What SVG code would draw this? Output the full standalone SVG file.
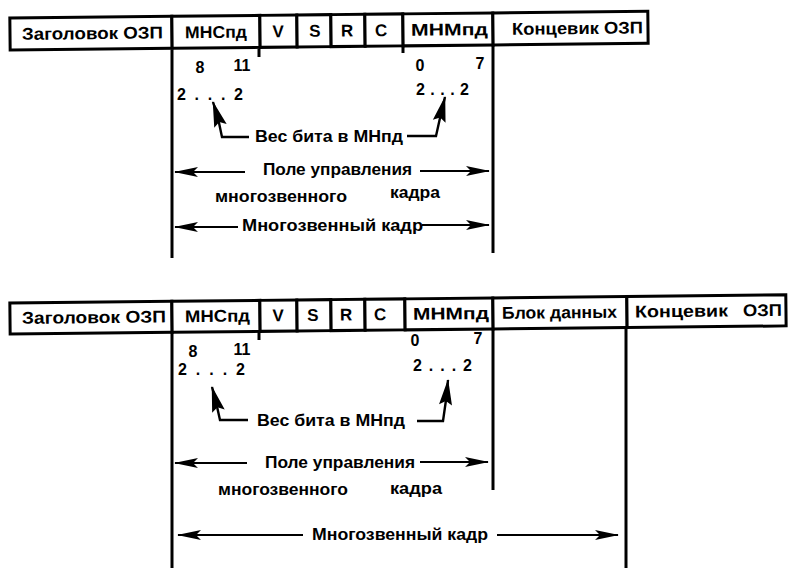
<svg xmlns="http://www.w3.org/2000/svg" width="791" height="568" viewBox="0 0 791 568">
<style>
  .box { fill: #fff; stroke: #000; stroke-width: 3; }
  .lbl { font-family: "Liberation Sans", Arial, sans-serif; font-weight: bold; font-size: 17px; fill: #000; }
  .t { font-family: "Liberation Sans", Arial, sans-serif; font-weight: bold; font-size: 16px; fill: #000; }
  .wall { stroke: #000; stroke-width: 3; fill: none; }
  .tick { stroke: #000; stroke-width: 3; fill: none; }
  .arr { stroke: #000; stroke-width: 2; fill: none; marker-end: url(#head); }
  .bent { stroke: #000; stroke-width: 2.4; fill: none; marker-end: url(#bighead); }
</style>
<defs>
  <marker id="head" markerUnits="userSpaceOnUse" viewBox="0 -6 24 12" markerWidth="24" markerHeight="12" refX="23" refY="0" orient="auto" overflow="visible">
    <path d="M24,0 L0,-5 L5,0 L0,5 Z" fill="#000"/>
  </marker>
  <marker id="bighead" markerUnits="userSpaceOnUse" viewBox="0 -7 26 14" markerWidth="26" markerHeight="14" refX="25" refY="0" orient="auto" overflow="visible">
    <path d="M26,0 L0,-6.5 L4,0 L0,6.5 Z" fill="#000"/>
  </marker>
</defs>
<rect width="791" height="568" fill="#fff"/>

<!-- ===== Top diagram ===== -->
<g id="row1" transform="rotate(-0.6 10 34)">
  <g id="n1-header"><rect class="box" x="10" y="18" width="162" height="32"/><text class="lbl" x="22" y="40" textLength="141" lengthAdjust="spacingAndGlyphs">Заголовок ОЗП</text></g>
  <g id="n1-mnspd"><rect class="box" x="172" y="18" width="88" height="32"/><text class="lbl" x="185" y="40" textLength="62" lengthAdjust="spacingAndGlyphs">МНСпд</text></g>
  <g id="n1-v"><rect class="box" x="260" y="18" width="37" height="32"/><text class="lbl" x="278" y="40" text-anchor="middle">V</text></g>
  <g id="n1-s"><rect class="box" x="297" y="18" width="34" height="32"/><text class="lbl" x="315" y="40" text-anchor="middle">S</text></g>
  <g id="n1-r"><rect class="box" x="331" y="18" width="34" height="32"/><text class="lbl" x="347" y="40" text-anchor="middle">R</text></g>
  <g id="n1-c"><rect class="box" x="365" y="18" width="38" height="32"/><text class="lbl" x="381" y="40" text-anchor="middle">C</text></g>
  <g id="n1-mnmpd"><rect class="box" x="403" y="18" width="90" height="32"/><text class="lbl" x="411" y="40" textLength="77" lengthAdjust="spacingAndGlyphs">МНМпд</text></g>
  <g id="n1-trailer"><rect class="box" x="493" y="18" width="155" height="32"/><text class="lbl" x="512" y="40" textLength="131" lengthAdjust="spacingAndGlyphs">Концевик ОЗП</text></g>
</g>

<g id="frame1">
  <line class="wall" x1="172" y1="50" x2="172" y2="258"/>
  <line class="wall" x1="493" y1="45" x2="493" y2="253"/>
  <line class="tick" x1="259" y1="49" x2="259" y2="57"/>
  <line class="tick" x1="403" y1="46" x2="403" y2="53"/>
</g>

<g id="text1">
  <text class="t" x="200" y="73" text-anchor="middle">8</text>
  <text class="t" x="242" y="71" text-anchor="middle">11</text>
  <text class="t" x="177" y="100" textLength="66" lengthAdjust="spacing">2 . . . 2</text>
  <text class="t" x="420" y="71" text-anchor="middle">0</text>
  <text class="t" x="480" y="69" text-anchor="middle">7</text>
  <text class="t" x="416" y="95" textLength="53" lengthAdjust="spacing">2 . . . 2</text>
  <text class="t" x="255" y="142" textLength="148" lengthAdjust="spacingAndGlyphs">Вес бита в МНпд</text>
  <text class="t" x="263" y="175" textLength="149" lengthAdjust="spacingAndGlyphs">Поле управления</text>
  <text class="t" x="215" y="202" textLength="132" lengthAdjust="spacingAndGlyphs">многозвенного</text>
  <text class="t" x="390" y="198" textLength="50" lengthAdjust="spacingAndGlyphs">кадра</text>
  <text class="t" x="242" y="231" textLength="181" lengthAdjust="spacingAndGlyphs">Многозвенный кадр</text>
</g>

<g id="connectors1">
  <path class="bent" d="M249,137 L222,137 L218,118 L213,102"/>
  <path class="bent" d="M407,136 L436,136 L440,118 L445,97"/>
  <path class="arr" d="M245,172 L175,172"/>
  <path class="arr" d="M420,171 L489,171"/>
  <path class="arr" d="M238,227 L175,227"/>
  <path class="arr" d="M422,225 L489,225"/>
</g>

<!-- ===== Bottom diagram ===== -->
<g id="row2" transform="rotate(-0.6 10 318)">
  <g id="n2-header"><rect class="box" x="10" y="303" width="162" height="31"/><text class="lbl" x="22" y="324" textLength="144" lengthAdjust="spacingAndGlyphs">Заголовок ОЗП</text></g>
  <g id="n2-mnspd"><rect class="box" x="172" y="303" width="88" height="31"/><text class="lbl" x="185" y="324" textLength="65" lengthAdjust="spacingAndGlyphs">МНСпд</text></g>
  <g id="n2-v"><rect class="box" x="260" y="303" width="37" height="31"/><text class="lbl" x="278" y="324" text-anchor="middle">V</text></g>
  <g id="n2-s"><rect class="box" x="297" y="303" width="34" height="31"/><text class="lbl" x="313" y="324" text-anchor="middle">S</text></g>
  <g id="n2-r"><rect class="box" x="331" y="303" width="34" height="31"/><text class="lbl" x="346" y="324" text-anchor="middle">R</text></g>
  <g id="n2-c"><rect class="box" x="365" y="303" width="40" height="31"/><text class="lbl" x="380" y="324" text-anchor="middle">C</text></g>
  <g id="n2-mnmpd"><rect class="box" x="405" y="303" width="88" height="31"/><text class="lbl" x="413" y="324" textLength="76" lengthAdjust="spacingAndGlyphs">МНМпд</text></g>
  <g id="n2-data"><rect class="box" x="493" y="303" width="134" height="31"/><text class="lbl" x="502" y="324" textLength="115" lengthAdjust="spacingAndGlyphs">Блок данных</text></g>
  <g id="n2-trailer"><rect class="box" x="627" y="303" width="159" height="31"/><text class="lbl" y="324"><tspan x="635" textLength="93" lengthAdjust="spacingAndGlyphs">Концевик</tspan><tspan x="743" textLength="39" lengthAdjust="spacingAndGlyphs">ОЗП</tspan></text></g>
</g>

<g id="frame2">
  <line class="wall" x1="172" y1="333" x2="172" y2="568"/>
  <line class="wall" x1="493" y1="329" x2="493" y2="490"/>
  <line class="wall" x1="626" y1="328" x2="626" y2="568"/>
  <line class="tick" x1="259" y1="332" x2="259" y2="340"/>
</g>

<g id="text2">
  <text class="t" x="193" y="357" text-anchor="middle">8</text>
  <text class="t" x="242" y="355" text-anchor="middle">11</text>
  <text class="t" x="178" y="375" textLength="67" lengthAdjust="spacing">2 . . . 2</text>
  <text class="t" x="415" y="346" text-anchor="middle">0</text>
  <text class="t" x="478" y="344" text-anchor="middle">7</text>
  <text class="t" x="413" y="371" textLength="59" lengthAdjust="spacing">2 . . . 2</text>
  <text class="t" x="257" y="426" textLength="148" lengthAdjust="spacingAndGlyphs">Вес бита в МНпд</text>
  <text class="t" x="265" y="468" textLength="150" lengthAdjust="spacingAndGlyphs">Поле управления</text>
  <text class="t" x="218" y="495" textLength="130" lengthAdjust="spacingAndGlyphs">многозвенного</text>
  <text class="t" x="390" y="494" textLength="52" lengthAdjust="spacingAndGlyphs">кадра</text>
  <text class="t" x="312" y="540" textLength="176" lengthAdjust="spacingAndGlyphs">Многозвенный кадр</text>
</g>

<g id="connectors2">
  <path class="bent" d="M248,420 L220,420 L216,402 L212,387"/>
  <path class="bent" d="M417,421 L443,421 L446,400 L448,380"/>
  <path class="arr" d="M247,463 L175,463"/>
  <path class="arr" d="M420,462 L488,462"/>
  <path class="arr" d="M303,535 L178,535"/>
  <path class="arr" d="M497,535 L618,535"/>
</g>
</svg>
